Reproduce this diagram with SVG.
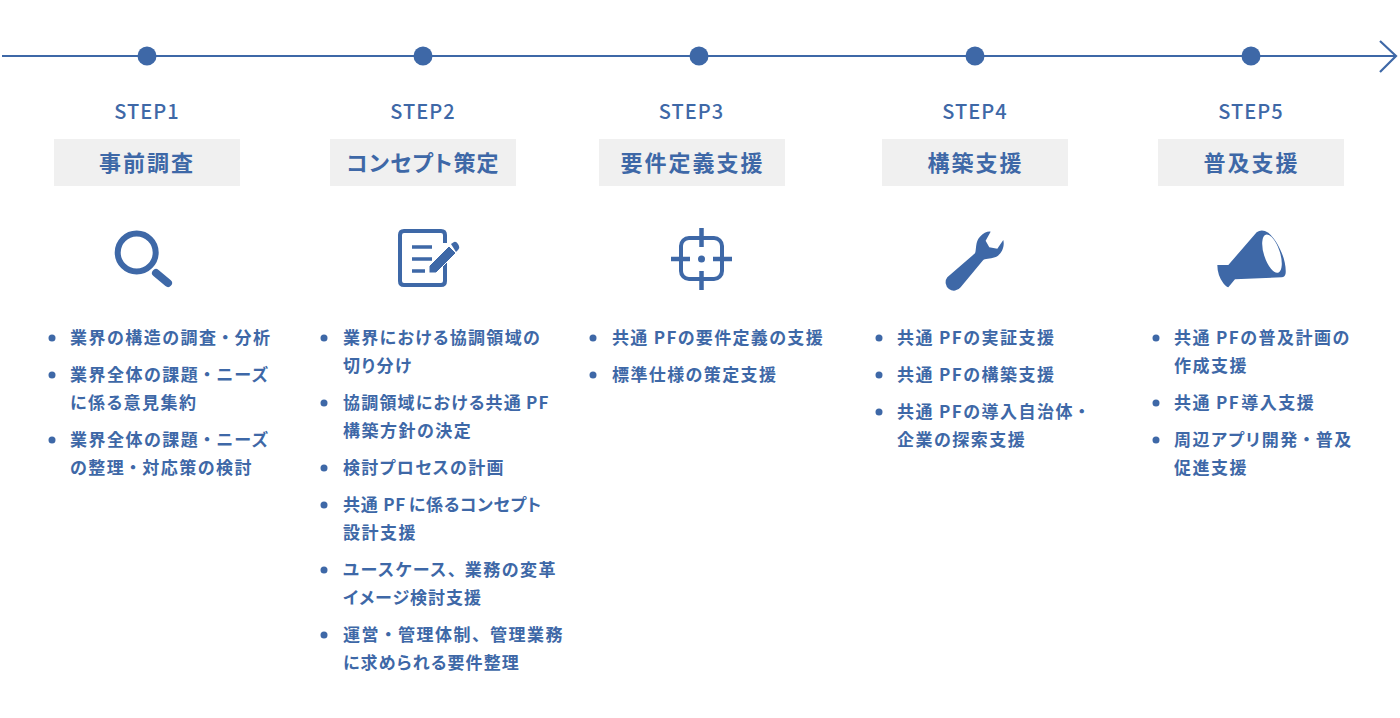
<svg xmlns="http://www.w3.org/2000/svg" width="1400" height="718" viewBox="0 0 1400 718">
<style>
text{font-family:"Noto Sans CJK JP","Noto Sans",sans-serif;fill:#3e68a7;font-feature-settings:"palt"}
.step{font-size:20px;font-weight:500;text-anchor:middle;letter-spacing:1px}
.title{font-size:22px;font-weight:700;text-anchor:middle;letter-spacing:2px}
.li{font-size:17px;font-weight:700;letter-spacing:1.5px}
.box{fill:#f0f0f0}
.dot{fill:#3e68a7}
.ln{fill:none;stroke:#3e68a7;stroke-width:2.2}
.ic{fill:#3e68a7}
</style>
<rect width="1400" height="718" fill="#fff"/>
<g id="connectors">
<path class="ln" d="M2 56H1396M1380 41L1396 56L1380 72"/>
</g>
<g id="step1">
<circle class="dot" cx="147" cy="56" r="9.5"/>
<text class="step" x="147" y="119">STEP1</text>
<rect class="box" x="54" y="139" width="186" height="47"/>
<text class="title" x="147" y="171">事前調査</text>
<circle cx="136.700" cy="252.500" r="19" fill="none" stroke="#3e68a7" stroke-width="6"/>
<path d="M156 273L168 283" stroke="#3e68a7" stroke-width="8" stroke-linecap="round"/>
<circle class="dot" cx="52" cy="338" r="3.500"/>
<circle class="dot" cx="52" cy="375" r="3.500"/>
<circle class="dot" cx="52" cy="440" r="3.500"/>
<text class="li" x="70" y="344">業界の構造の調査<tspan dx="3.500">・</tspan><tspan dx="3.500">分析</tspan></text>
<text class="li" x="70" y="381">業界全体の課題<tspan dx="3.500">・</tspan><tspan dx="3.500">ニーズ</tspan></text>
<text class="li" x="70" y="409">に係る意見集約</text>
<text class="li" x="70" y="446">業界全体の課題<tspan dx="3.500">・</tspan><tspan dx="3.500">ニーズ</tspan></text>
<text class="li" x="70" y="474">の整理<tspan dx="3.500">・</tspan><tspan dx="3.500">対応策の検討</tspan></text>
</g>
<g id="step2">
<circle class="dot" cx="423" cy="56" r="9.5"/>
<text class="step" x="423" y="119">STEP2</text>
<rect class="box" x="330" y="139" width="186" height="47"/>
<text class="title" x="423" y="171" style="letter-spacing:1.1px">コンセプト策定</text>
<path d="M445 243V235Q445 231 441 231H404Q400 231 400 235V281Q400 285 404 285H441Q445 285 445 281V260" fill="none" stroke="#3e68a7" stroke-width="4"/>
<path d="M412 247H432M412 259H432M412 271H425" stroke="#3e68a7" stroke-width="3.500" fill="none"/>
<path class="ic" d="M429 273L429 266L449 246L456 253L436 273Z" stroke="#fff" stroke-width="1"/>
<path class="ic" d="M451 244L454 242Q456 241 458 244L459 246Q460 248 458 250L456 252Z"/>
<circle class="dot" cx="324" cy="338" r="3.500"/>
<circle class="dot" cx="324" cy="403" r="3.500"/>
<circle class="dot" cx="324" cy="468" r="3.500"/>
<circle class="dot" cx="324" cy="505" r="3.500"/>
<circle class="dot" cx="324" cy="570" r="3.500"/>
<circle class="dot" cx="324" cy="635" r="3.500"/>
<text class="li" x="343" y="344" style="letter-spacing:1.3px">業界における協調領域の</text>
<text class="li" x="343" y="372">切り分け</text>
<text class="li" x="343" y="409" style="letter-spacing:1.2px">協調領域における共通<tspan dx="4">PF</tspan></text>
<text class="li" x="343" y="437">構築方針の決定</text>
<text class="li" x="343" y="474" style="letter-spacing:1.3px">検討プロセスの計画</text>
<text class="li" x="343" y="511" style="letter-spacing:.65px">共通<tspan dx="5">PF</tspan><tspan dx="3">に係るコンセプト</tspan></text>
<text class="li" x="343" y="539">設計支援</text>
<text class="li" x="343" y="576">ユースケース、<tspan dx="7">業務の変革</tspan></text>
<text class="li" x="343" y="604" style="letter-spacing:1px">イメージ検討支援</text>
<text class="li" x="343" y="641">運営<tspan dx="4">・</tspan><tspan dx="4">管理体制、</tspan><tspan dx="8">管理業務</tspan></text>
<text class="li" x="343" y="669" style="letter-spacing:1.1px">に求められる要件整理</text>
</g>
<g id="step3">
<circle class="dot" cx="699" cy="56" r="9.5"/>
<text class="step" x="691.500" y="119">STEP3</text>
<rect class="box" x="599" y="139" width="186" height="47"/>
<text class="title" x="692.500" y="171">要件定義支援</text>
<rect x="681" y="238" width="41" height="41" rx="8" fill="none" stroke="#3e68a7" stroke-width="4"/>
<path d="M701.500 228V247M701.500 271V290M671 259H690M713 259H732" stroke="#3e68a7" stroke-width="4.500" fill="none"/>
<circle class="dot" cx="701.500" cy="259" r="3.500"/>
<circle class="dot" cx="593" cy="338" r="3.500"/>
<circle class="dot" cx="593" cy="375" r="3.500"/>
<text class="li" x="612" y="344" style="letter-spacing:1.35px">共通<tspan dx="5">PF</tspan>の要件定義の支援</text>
<text class="li" x="612" y="381" style="letter-spacing:1.4px">標準仕様の策定支援</text>
</g>
<g id="step4">
<circle class="dot" cx="975" cy="56" r="9.5"/>
<text class="step" x="975" y="119">STEP4</text>
<rect class="box" x="882" y="139" width="186" height="47"/>
<text class="title" x="975.500" y="171">構築支援</text>
<path class="ic" transform="translate(600,200) scale(.3333)" d="M1042 232L1125 160C1130 150 1125 125 1140 110C1150 98 1165 93 1172 95L1157 122L1168 142L1192 146L1210 120C1215 140 1205 165 1185 172C1170 178 1155 175 1148 182L1082 262A25 25 0 0 1 1042 232Z"/>
<circle class="dot" cx="879" cy="338" r="3.500"/>
<circle class="dot" cx="879" cy="375" r="3.500"/>
<circle class="dot" cx="879" cy="412" r="3.500"/>
<text class="li" x="897" y="344">共通<tspan dx="5">PF</tspan>の実証支援</text>
<text class="li" x="897" y="381">共通<tspan dx="5">PF</tspan>の構築支援</text>
<text class="li" x="897" y="418">共通<tspan dx="5">PF</tspan>の導入自治体<tspan dx="3.500">・</tspan></text>
<text class="li" x="897" y="446">企業の探索支援</text>
</g>
<g id="step5">
<circle class="dot" cx="1251" cy="56" r="9.5"/>
<text class="step" x="1251" y="119">STEP5</text>
<rect class="box" x="1158" y="139" width="186" height="47"/>
<text class="title" x="1251.500" y="171">普及支援</text>
<g transform="translate(1140,30) scale(.3333)">
<path class="ic" d="M232 705L265 705L350 607Q365 595 385 608C415 635 440 690 437 730Q435 742 425 742L285 748L265 772Q260 772 250 760Q232 735 232 705Z"/>
<ellipse cx="396" cy="671" rx="24" ry="60" transform="rotate(-18 396 671)" fill="#fff"/>
</g>
<circle class="dot" cx="1156" cy="338" r="3.500"/>
<circle class="dot" cx="1156" cy="403" r="3.500"/>
<circle class="dot" cx="1156" cy="440" r="3.500"/>
<text class="li" x="1174" y="344">共通<tspan dx="5">PF</tspan>の普及計画の</text>
<text class="li" x="1174" y="372">作成支援</text>
<text class="li" x="1174" y="409">共通<tspan dx="5">PF</tspan><tspan dx="1">導入支援</tspan></text>
<text class="li" x="1174" y="446">周辺アプリ開発<tspan dx="3.500">・</tspan><tspan dx="3.500">普及</tspan></text>
<text class="li" x="1174" y="474">促進支援</text>
</g>
</svg>
